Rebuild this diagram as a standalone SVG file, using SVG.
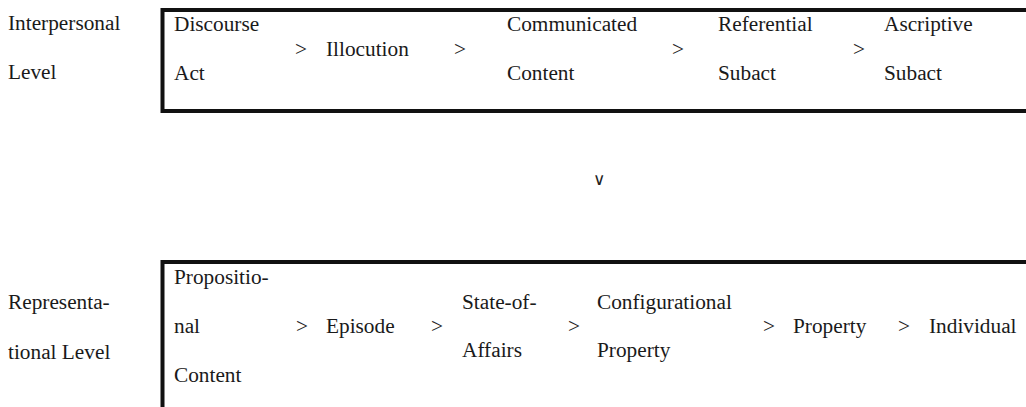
<svg xmlns="http://www.w3.org/2000/svg" width="1026" height="407" viewBox="0 0 1026 407">
<style>
.t{font-size:21.3px;fill:#1a1a1a}
.box{fill:none;stroke:#111;stroke-width:4}
.sym{font-size:17px;fill:#222}
</style>
<rect width="1026" height="407" fill="#fff"/>
<g font-family="Liberation Serif, Times New Roman, serif" class="t">
<g id="label-interpersonal">
<text x="8" y="30">Interpersonal</text>
<text x="8" y="79">Level</text>
</g>
<g id="interpersonal-level">
<path class="box" d="M1030,10 H162.5 V111 H1030"/>
<g id="discourse-act"><text x="174" y="31">Discourse</text><text x="174" y="80">Act</text></g>
<g id="illocution"><text x="326" y="55.5">Illocution</text></g>
<g id="communicated-content"><text x="507" y="31">Communicated</text><text x="507" y="80">Content</text></g>
<g id="referential-subact"><text x="718" y="31">Referential</text><text x="718" y="80">Subact</text></g>
<g id="ascriptive-subact"><text x="884" y="31">Ascriptive</text><text x="884" y="80">Subact</text></g>
</g>
<g id="label-representational">
<text x="8" y="309">Representa-</text>
<text x="8" y="359">tional Level</text>
</g>
<g id="representational-level">
<path class="box" d="M1030,262 H162.5 V410"/>
<g id="propositional-content"><text x="174" y="284">Propositio-</text><text x="174" y="333">nal</text><text x="174" y="382">Content</text></g>
<g id="episode"><text x="326" y="333">Episode</text></g>
<g id="state-of-affairs"><text x="462" y="309">State-of-</text><text x="462" y="357">Affairs</text></g>
<g id="configurational-property"><text x="597" y="309">Configurational</text><text x="597" y="357">Property</text></g>
<g id="property"><text x="793" y="333">Property</text></g>
<g id="individual"><text x="929" y="333">Individual</text></g>
</g>
<g id="connectors">
<text x="295" y="55.5">&gt;</text>
<text x="454" y="55.5">&gt;</text>
<text x="672" y="55.5">&gt;</text>
<text x="853" y="55.5">&gt;</text>
<text class="sym" font-family="DejaVu Sans, sans-serif" x="593" y="185">∨</text>
<text x="296" y="333">&gt;</text>
<text x="431" y="333">&gt;</text>
<text x="568" y="333">&gt;</text>
<text x="763" y="333">&gt;</text>
<text x="898" y="333">&gt;</text>
</g>
</g>
</svg>
